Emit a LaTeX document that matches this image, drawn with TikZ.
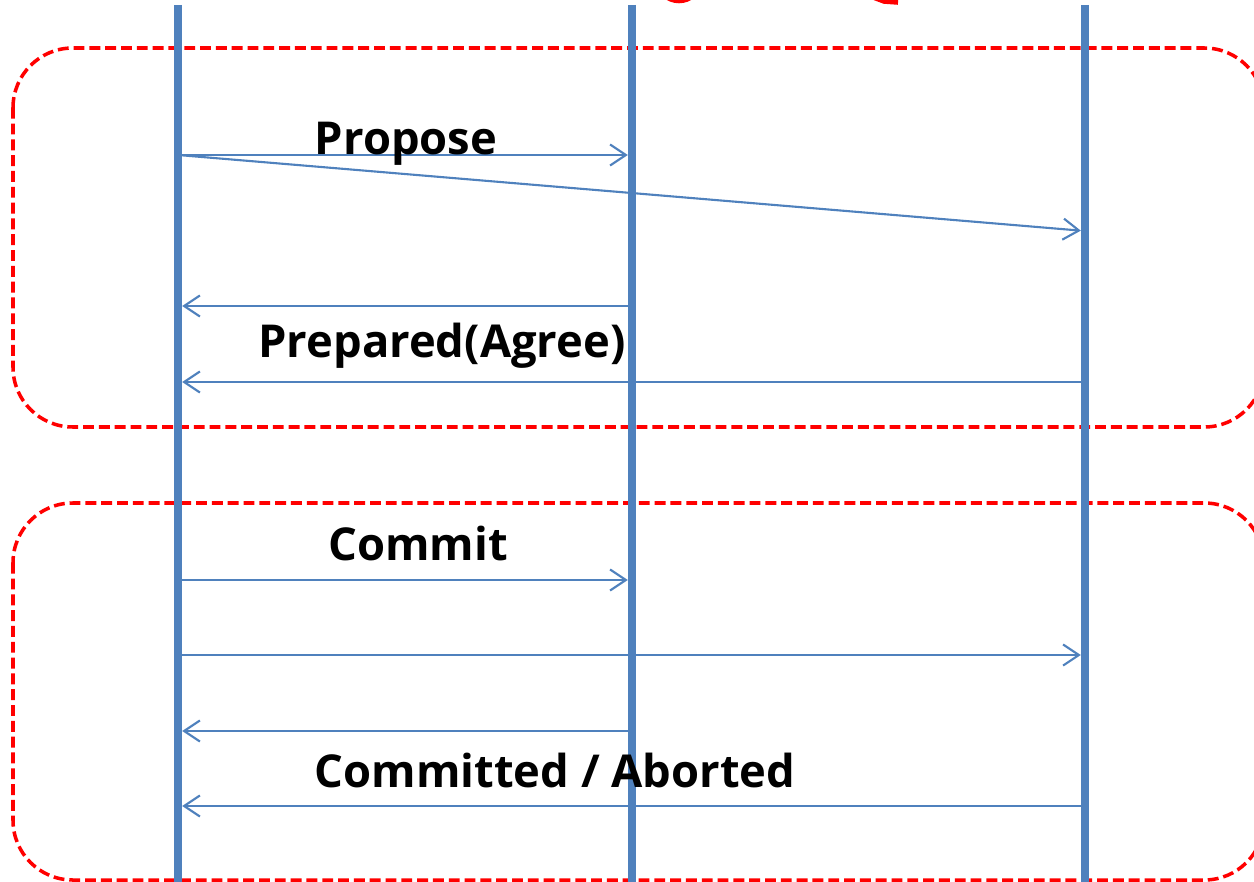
\documentclass[tikz,border=0pt]{standalone}
\usepackage{fontspec}
\setmainfont{Open Sans}
\usetikzlibrary{arrows.meta}
\definecolor{lifeblue}{HTML}{4F81BD}
\definecolor{phasered}{HTML}{FF0000}
\tikzset{
  lifeline/.style={draw=lifeblue, line width=4.6pt},
  msg/.style={draw=lifeblue, line width=1.2pt,
    -{Straight Barb[length=9pt, width=12pt, line width=1.2pt]}, shorten >=2.4pt, shorten <=2.4pt},
  phase/.style={draw=phasered, line width=2pt, dash pattern=on 6.2pt off 2.8pt, rounded corners=34pt},
  lbl/.style={font=\fontsize{25.8}{28}\selectfont\bfseries, anchor=base, inner sep=0pt},
}
\begin{document}
\begin{tikzpicture}[x=0.02cm, y=-0.02cm]
\useasboundingbox (0,0) rectangle (1254,882);
\clip (0,0) rectangle (1254,882);

% phase frames (right edges run past the page)
\draw[phase] (13,48) rectangle (1264,427);
\draw[phase] (13,503) rectangle (1264,880);

% remains of the heading above the frame
\draw[phasered, line width=2.6pt] (664,-5) .. controls (672,3) and (686,3) .. (694,-5);
\draw[phasered, line width=2.6pt] (872,-3) -- (884,1.5) -- (898,2.5);

% lifelines
\coordinate (c) at (178,5);
\coordinate (p1) at (632,5);
\coordinate (p2) at (1085,5);
\draw[lifeline] (c) -- (178,882);
\draw[lifeline] (p1) -- (632,882);
\draw[lifeline] (p2) -- (1085,882);

% message ends on the lifelines
\coordinate (cA) at (178,155);  \coordinate (p1A) at (632,155);
\coordinate (p2B) at (1085,231);
\coordinate (p1C) at (632,306); \coordinate (cC) at (178,306);
\coordinate (p2D) at (1085,382); \coordinate (cD) at (178,382);
\coordinate (cE) at (178,580);  \coordinate (p1E) at (632,580);
\coordinate (cF) at (178,655);  \coordinate (p2F) at (1085,655);
\coordinate (p1G) at (632,731); \coordinate (cG) at (178,731);
\coordinate (p2H) at (1085,806); \coordinate (cH) at (178,806);

% phase 1: propose / prepared
\draw[msg] (cA) -- (p1A);
\draw[msg] (cA) -- (p2B);
\draw[msg] (p1C) -- (cC);
\draw[msg] (p2D) -- (cD);
\node[lbl] (propose) at (406,154) {Propose};
\node[lbl] (prepared) at (442,357) {Prepared(Agree)};

% phase 2: commit / outcome
\draw[msg] (cE) -- (p1E);
\draw[msg] (cF) -- (p2F);
\draw[msg] (p1G) -- (cG);
\draw[msg] (p2H) -- (cH);
\node[lbl] (commit) at (418,560) {Commit};
\node[lbl] (outcome) at (555,787) {Committed / Aborted};
\end{tikzpicture}
\end{document}
